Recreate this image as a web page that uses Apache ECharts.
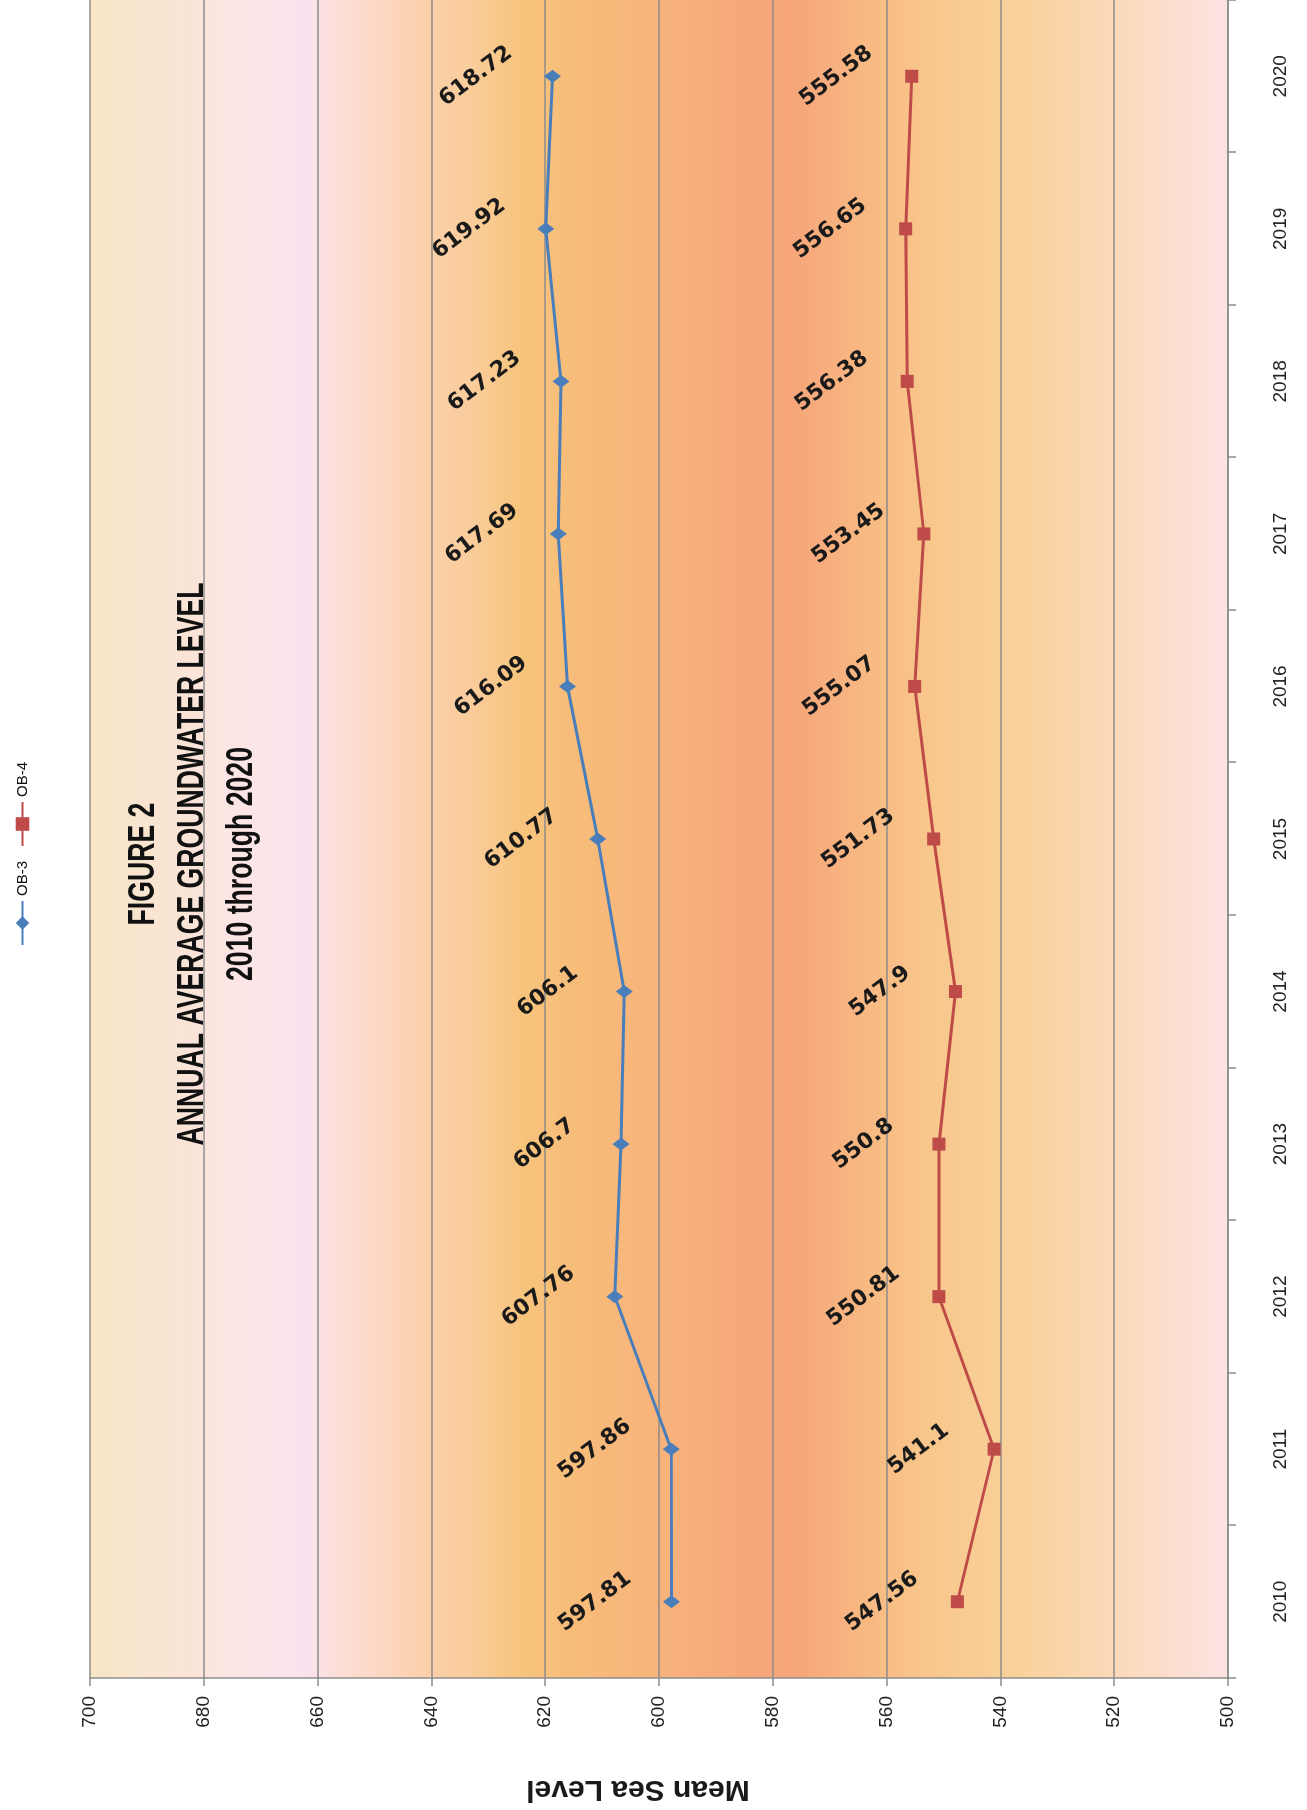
<!DOCTYPE html>
<html>
<head>
<meta charset="utf-8">
<script src="https://cdn.jsdelivr.net/npm/echarts@6/dist/echarts.min.js"></script>
<style>
html,body{margin:0;padding:0;background:#ffffff;width:1307px;height:1810px;overflow:hidden;}
#chart{position:absolute;left:0;top:0;width:1810px;height:1307px;transform-origin:0 0;transform:translate(0,1810px) rotate(-90deg);}
</style>
</head>
<body>
<div id="chart"></div>
<script>
// ---- data ----
const years = ['2010','2011','2012','2013','2014','2015','2016','2017','2018','2019','2020'];
const ob3 = [597.81, 597.86, 607.76, 606.7, 606.1, 610.77, 616.09, 617.69, 617.23, 619.92, 618.72];
const ob4 = [547.56, 541.1, 550.81, 550.8, 547.9, 551.73, 555.07, 553.45, 556.38, 556.65, 555.58];
const seriesNames = ['OB-3', 'OB-4'];
const valueMin = 500, valueMax = 700, valueStep = 20;
const titleLines = ['FIGURE 2', 'ANNUAL AVERAGE GROUNDWATER LEVEL', '2010 through 2020'];
const axisTitle = 'Mean Sea Level';

const chart = echarts.init(document.getElementById('chart'), null, {renderer: 'canvas'});

const gridColor = '#8c8c8c';
const bg = new echarts.graphic.LinearGradient(0, 0, 0, 1, [
  {offset: 0.00, color: '#f8e6c6'},
  {offset: 0.09, color: '#fae4d8'},
  {offset: 0.12, color: '#fce6e3'},
  {offset: 0.19, color: '#fae3ef'},
  {offset: 0.21, color: '#fde0dd'},
  {offset: 0.30, color: '#fbcfa8'},
  {offset: 0.33, color: '#facd9e'},
  {offset: 0.38, color: '#f7c47c'},
  {offset: 0.42, color: '#f7bd7a'},
  {offset: 0.50, color: '#f8b37b'},
  {offset: 0.58, color: '#f6a77a'},
  {offset: 0.62, color: '#f6a67a'},
  {offset: 0.68, color: '#f8b882'},
  {offset: 0.74, color: '#f8c78c'},
  {offset: 0.82, color: '#f9d29c'},
  {offset: 0.90, color: '#fbd9b9'},
  {offset: 1.00, color: '#fde3e3'}
]);

const labelBase = {
  show: true,
  position: 'top',
  rotate: -53,
  align: 'center',
  verticalAlign: 'middle',
  fontFamily: 'DejaVu Sans',
  fontWeight: 'bold',
  fontSize: 22,
  color: '#1a1a1a'
};

const axisFont = {fontFamily: 'Liberation Sans', fontSize: 19, color: '#222'};

const option = {
  animation: false,
  backgroundColor: '#ffffff',
  grid: {
    left: 132, top: 90, width: 1683, height: 1138,
    show: true, backgroundColor: bg, borderWidth: 0,
    containLabel: false
  },
  legend: {
    data: seriesNames,
    left: 864, top: 15,
    orient: 'horizontal',
    itemWidth: 44, itemHeight: 17, itemGap: 14,
    padding: 0,
    textStyle: {fontFamily: 'Liberation Sans', fontSize: 15, color: '#111'}
  },
  xAxis: {
    type: 'category',
    data: years,
    boundaryGap: true,
    axisLine: {show: true, lineStyle: {color: gridColor, width: 1.5}},
    axisTick: {show: true, alignWithLabel: false, length: 8, lineStyle: {color: gridColor, width: 1.5}},
    axisLabel: Object.assign({margin: 43}, axisFont),
    splitLine: {show: false}
  },
  yAxis: {
    type: 'value',
    min: valueMin, max: valueMax, interval: valueStep,
    axisLine: {show: true, lineStyle: {color: gridColor, width: 1.5}},
    axisTick: {show: true, length: 8, lineStyle: {color: gridColor, width: 1.5}},
    axisLabel: Object.assign({margin: 18}, axisFont),
    splitLine: {show: true, lineStyle: {color: gridColor, width: 1.5}}
  },
  graphic: [
    {
      type: 'text',
      x: 946, y: 193,
      scaleX: 0.72, scaleY: 1,
      style: {
        text: titleLines.join('\n'),
        align: 'center', verticalAlign: 'middle',
        lineHeight: 49,
        fontFamily: 'Liberation Sans',
        fontWeight: 'bold',
        fontSize: 37,
        fill: '#111'
      },
      z: 10
    },
    {
      type: 'text',
      x: 21, y: 638,
      rotation: Math.PI / 2,
      style: {
        text: axisTitle,
        align: 'center', verticalAlign: 'middle',
        fontFamily: 'Liberation Sans',
        fontWeight: 'bold',
        fontSize: 30,
        fill: '#1a1a1a'
      }
    }
  ],
  series: [
    {
      name: seriesNames[0],
      type: 'line',
      data: ob3,
      symbol: 'diamond',
      symbolSize: [13, 17],
      lineStyle: {color: '#4a7ebb', width: 3},
      itemStyle: {color: '#4a7ebb'},
      label: Object.assign({}, labelBase, {distance: 68}),
      z: 5
    },
    {
      name: seriesNames[1],
      type: 'line',
      data: ob4,
      symbol: 'rect',
      symbolSize: 13,
      lineStyle: {color: '#be4b48', width: 3},
      itemStyle: {color: '#be4b48'},
      label: Object.assign({}, labelBase, {distance: 69}),
      z: 5
    }
  ]
};
chart.setOption(option);
</script>
</body>
</html>
